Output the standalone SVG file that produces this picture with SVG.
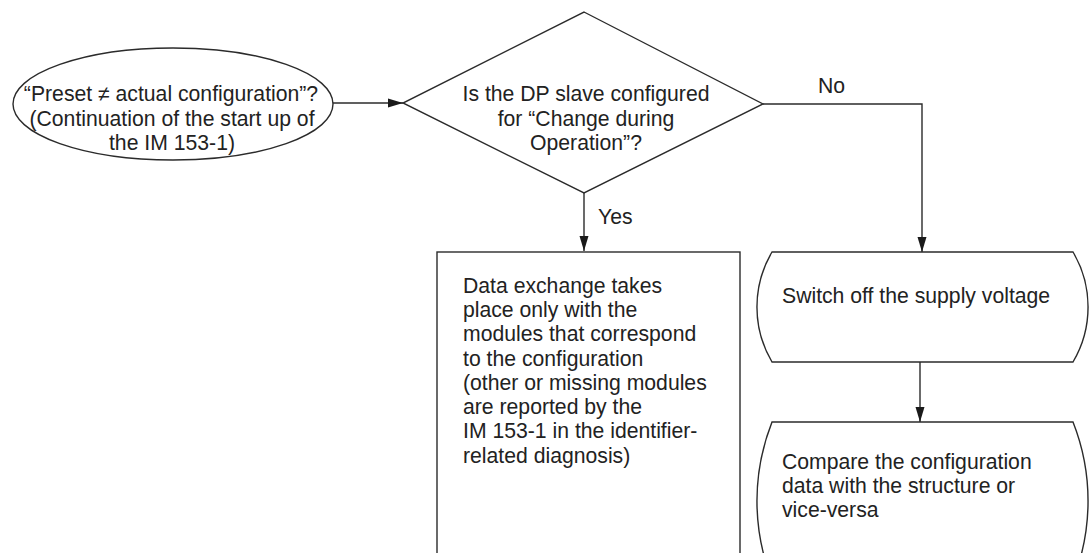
<svg xmlns="http://www.w3.org/2000/svg" width="1090" height="553" viewBox="0 0 1090 553">
<defs>
<style>
.s{fill:#fff;stroke:#2b2b2b;stroke-width:1.4}
.c{fill:none;stroke:#2b2b2b;stroke-width:1.4}
text{font-family:"Liberation Sans",Arial,sans-serif;font-size:21.2px;fill:#222}
.m{text-anchor:middle}
</style>
<marker id="ah" markerWidth="16" markerHeight="10" refX="15" refY="5" orient="auto" markerUnits="userSpaceOnUse">
<path d="M0,0.5 L15,5 L0,9.5 Z" fill="#1a1a1a"/>
</marker>
</defs>
<rect width="1090" height="553" fill="#fff"/>
<g id="connectors">
<line class="c" x1="333" y1="103" x2="403" y2="103" marker-end="url(#ah)"/>
<line class="c" x1="584" y1="193" x2="584" y2="251" marker-end="url(#ah)"/>
<polyline class="c" points="763,104 922,104 922,252" marker-end="url(#ah)"/>
<line class="c" x1="920" y1="362" x2="920" y2="422" marker-end="url(#ah)"/>
<text x="598" y="224">Yes</text>
<text x="818" y="93">No</text>
</g>
<g id="start">
<ellipse class="s" cx="173" cy="104" rx="160" ry="56"/>
<text class="m" x="171" y="101">“Preset ≠ actual configuration”?</text>
<text class="m" x="172" y="126">(Continuation of the start up of</text>
<text class="m" x="172" y="150">the IM 153-1)</text>
</g>
<g id="decision">
<polygon class="s" points="584,12 763,104 584,193 403,103"/>
<text class="m" x="586" y="101">Is the DP slave configured</text>
<text class="m" x="586" y="126">for “Change during</text>
<text class="m" x="586" y="150">Operation”?</text>
</g>
<g id="data-exchange">
<rect class="s" x="437" y="252" width="303" height="320"/>
<text x="463" y="293">Data exchange takes</text>
<text x="463" y="317">place only with the</text>
<text x="463" y="341">modules that correspond</text>
<text x="463" y="366">to the configuration</text>
<text x="463" y="390">(other or missing modules</text>
<text x="463" y="414">are reported by the</text>
<text x="463" y="438">IM 153-1 in the identifier-</text>
<text x="463" y="463">related diagnosis)</text>
</g>
<g id="switch-off">
<path class="s" d="M772,252 L1073,252 A108,108 0 0 1 1073,362 L772,362 A108,108 0 0 1 772,252 Z"/>
<text x="782" y="303">Switch off the supply voltage</text>
</g>
<g id="compare">
<path class="s" d="M772,422 L1073,422 A215,215 0 0 1 1073,580 L772,580 A215,215 0 0 1 772,422 Z"/>
<text x="782" y="469">Compare the configuration</text>
<text x="782" y="493">data with the structure or</text>
<text x="782" y="517">vice-versa</text>
</g>
</svg>
